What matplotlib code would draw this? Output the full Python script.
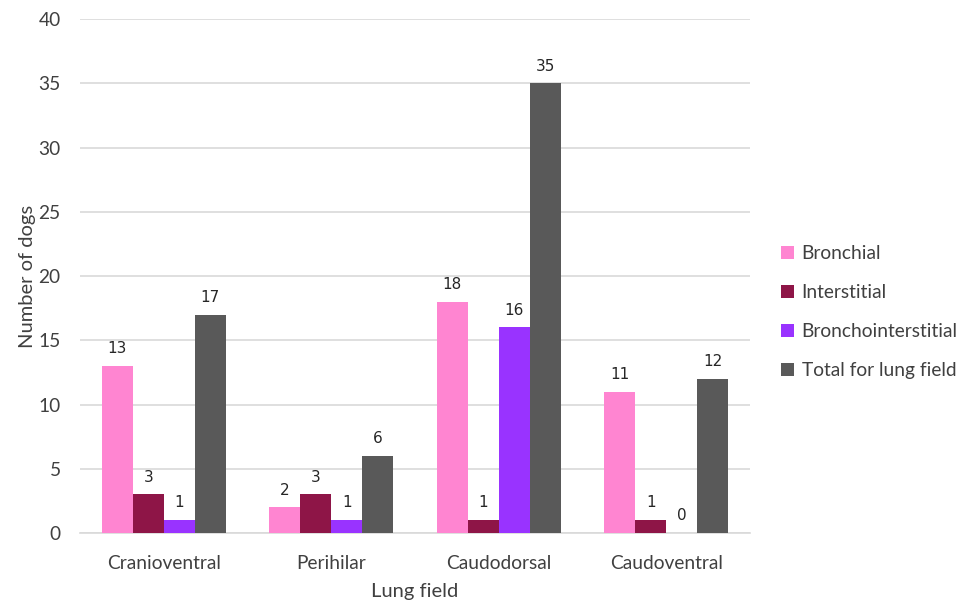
import numpy as np
import matplotlib
matplotlib.use("Agg")
import matplotlib.pyplot as plt

# Data
fields = ["Cranioventral", "Perihilar", "Caudodorsal", "Caudoventral"]
series_names = ["Bronchial", "Interstitial", "Bronchointerstitial", "Total for lung field"]
bronchial = [13, 2, 18, 11]
interstitial = [3, 3, 1, 1]
bronchointerstitial = [1, 1, 16, 0]
total = [17, 6, 35, 12]
colors = ["#FF85D1", "#8E1547", "#9933FF", "#595959"]

plt.rcParams['font.family'] = ['Lato', 'DejaVu Sans']

fig = plt.figure(figsize=(9.59, 6.06), dpi=100)
ax = fig.add_axes([0.0834, 0.1205, 0.6986, 0.848])

x = np.arange(len(fields))
width = 0.185
all_series = [bronchial, interstitial, bronchointerstitial, total]
for i, (vals, name, col) in enumerate(zip(all_series, series_names, colors)):
    offs = (i - 1.5) * width
    rects = ax.bar(x + offs, vals, width, color=col, label=name, zorder=3)
    for r, v in zip(rects, vals):
        ax.annotate(str(v), xy=(r.get_x() + r.get_width() / 2, r.get_height()),
                    xytext=(0, 7), textcoords="offset points",
                    ha="center", va="bottom", fontsize=11, color="#262626",
                    family="DejaVu Sans")

ax.set_xlim(-0.5, 3.5)
ax.set_ylim(0, 40)
ax.set_yticks(range(0, 41, 5))
ax.set_xticks(x)
ax.set_xticklabels(fields)
ax.tick_params(axis="both", length=0, labelsize=13.8, colors="#404040")
ax.tick_params(axis="y", pad=14)
ax.tick_params(axis="x", pad=16)
ax.yaxis.grid(True, color="#D9D9D9", linewidth=1.2, zorder=0)
for s in ["top", "right", "left"]:
    ax.spines[s].set_visible(False)
ax.spines["bottom"].set_color("#D9D9D9")
ax.spines["bottom"].set_linewidth(1.2)

ax.set_xlabel("Lung field", fontsize=14.5, color="#404040", labelpad=8)
ax.set_ylabel("Number of dogs", fontsize=14.5, color="#404040", labelpad=2)

ax.legend(loc="center left", bbox_to_anchor=(1.02, 0.43), frameon=False,
          fontsize=13.8, handlelength=0.7, handleheight=0.7, handletextpad=0.4,
          labelspacing=1.15, labelcolor="#404040")

fig.savefig("out.png", dpi=100)
